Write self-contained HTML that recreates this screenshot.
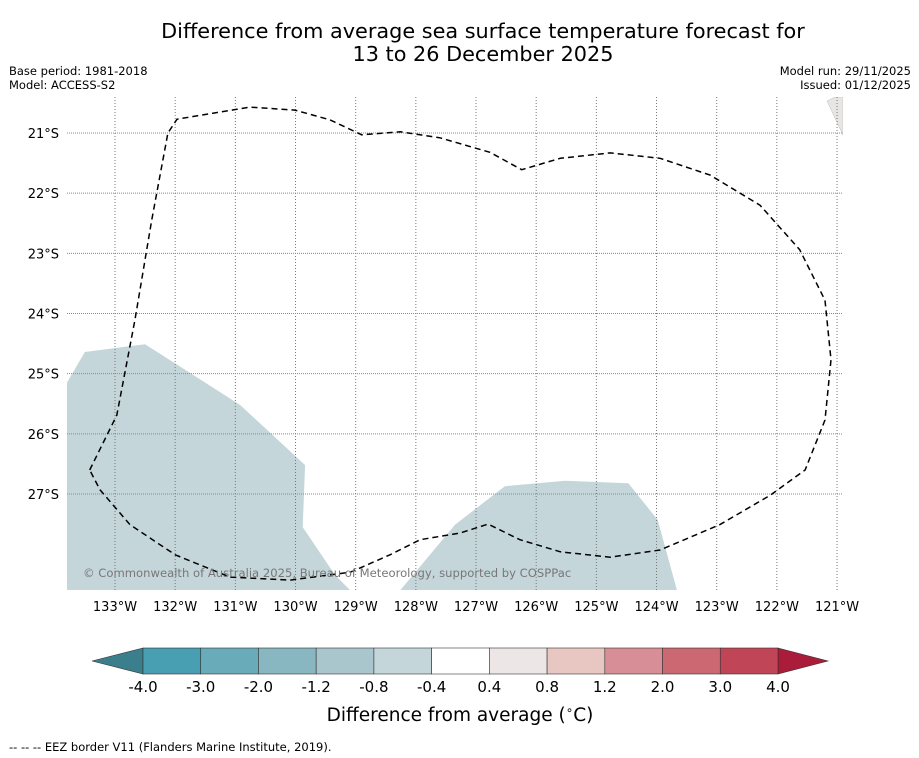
<!DOCTYPE html>
<html><head><meta charset="utf-8"><style>
body{margin:0;background:#fff;width:919px;height:758px;overflow:hidden;font-family:"DejaVu Sans","Liberation Sans",sans-serif}
svg{display:block}
</style></head><body>
<svg id="chart" width="919" height="758" viewBox="0 0 919 758" font-family="DejaVu Sans, Liberation Sans, sans-serif">
<text x="483" y="38" font-size="20.8" text-anchor="middle">Difference from average sea surface temperature forecast for</text>
<text x="483" y="61" font-size="20.8" text-anchor="middle">13 to 26 December 2025</text>
<text x="9" y="75" font-size="11.5">Base period: 1981-2018</text>
<text x="9" y="89" font-size="11.5">Model: ACCESS-S2</text>
<text x="911" y="75" font-size="11.5" text-anchor="end">Model run: 29/11/2025</text>
<text x="911" y="89" font-size="11.5" text-anchor="end">Issued: 01/12/2025</text>
<g id="map"></g>
<g id="cbar"></g>
<text x="460" y="721" font-size="18.5" text-anchor="middle">Difference from average (<tspan baseline-shift="super" font-size="12">∘</tspan>C)</text>
<text x="9" y="751" font-size="11.5">--  --  -- EEZ border V11 (Flanders Marine Institute, 2019).</text>
</svg>
<script>
const lonTicks=[-133,-132,-131,-130,-129,-128,-127,-126,-125,-124,-123,-122,-121];
const latTicks=[-21,-22,-23,-24,-25,-26,-27];
const eezLon=[-133.42,-132.97,-132.67,-132.39,-132.12,-131.97,-130.76,-130.01,-129.43,-128.90,-128.26,-127.60,-126.77,-126.24,-125.60,-124.77,-123.94,-123.11,-122.28,-121.62,-121.20,-121.10,-121.20,-121.53,-122.11,-122.95,-123.94,-124.77,-125.60,-126.27,-126.80,-127.27,-127.93,-128.43,-129.09,-130.09,-131.09,-132.00,-132.75,-133.25,-133.42];
const eezLat=[-26.60,-25.69,-24.11,-22.45,-21.00,-20.77,-20.57,-20.62,-20.78,-21.03,-20.98,-21.08,-21.32,-21.61,-21.42,-21.33,-21.42,-21.70,-22.20,-22.94,-23.78,-24.77,-25.77,-26.60,-27.02,-27.51,-27.93,-28.05,-27.96,-27.76,-27.50,-27.65,-27.76,-28.01,-28.30,-28.43,-28.38,-28.01,-27.51,-26.93,-26.60];
const patchWestLon=[-133.80,-133.50,-132.50,-130.92,-130.51,-129.84,-129.88,-129.34,-129.09,-133.80];
const patchWestLat=[-25.15,-24.64,-24.51,-25.52,-25.90,-26.52,-27.55,-28.35,-28.60,-28.60];
const patchEastLon=[-128.26,-127.35,-126.52,-125.52,-124.47,-123.98,-123.66];
const patchEastLat=[-28.60,-27.51,-26.87,-26.78,-26.82,-27.43,-28.60];
const cbarLabels=["-4.0","-3.0","-2.0","-1.2","-0.8","-0.4","0.4","0.8","1.2","2.0","3.0","4.0"];
const cbarColors=["#489fb1","#69abb9","#88b6c1","#a8c6cc","#c5d6db","#ffffff","#ede6e6","#e8c6c1","#d78e96","#cb6872","#c04556"];
const NS="http://www.w3.org/2000/svg";
const X0=67,X1=843,Y0=97,Y1=590,PX=60.17;
const xs=lon=>115+(lon+133)*PX;
const ys=lat=>133+(-21-lat)*PX;
function mk(tag,attrs,parent){const e=document.createElementNS(NS,tag);for(const k in attrs)e.setAttribute(k,attrs[k]);parent.appendChild(e);return e;}
const map=document.getElementById('map');
const clip=mk('clipPath',{id:'mc'},map);mk('rect',{x:X0,y:Y0,width:X1-X0,height:Y1-Y0},clip);
const g=mk('g',{'clip-path':'url(#mc)'},map);
function poly(lons,lats){return lons.map((l,i)=>xs(l).toFixed(1)+','+ys(lats[i]).toFixed(1)).join(' ');}
let p=mk('polygon',{points:poly(patchWestLon,patchWestLat),fill:'#c5d6db'},g);


p=mk('polygon',{points:poly(patchEastLon,patchEastLat),fill:'#c5d6db'},g);


p=mk('polygon',{points:'827,101 835,97 843,97 843,135',fill:'#e8e6e4',stroke:'#bbb','stroke-width':0.5},g);


lonTicks.forEach(l=>{const x=xs(l);
 const ln=mk('line',{x1:x,x2:x,y1:Y0,y2:Y1,stroke:'#777','stroke-width':1,'stroke-dasharray':'1,2'},g);
 
 
 const t=mk('text',{x:x,y:611,'font-size':13,'text-anchor':'middle'},map);t.textContent=Math.abs(l)+'°W';
 
 
});
latTicks.forEach(l=>{const y=ys(l);
 const ln=mk('line',{x1:X0,x2:X1,y1:y,y2:y,stroke:'#889','stroke-width':1,'stroke-dasharray':'1,1'},g);
 
 
 const t=mk('text',{x:59,y:y+5,'font-size':13,'text-anchor':'end'},map);t.textContent=Math.abs(l)+'°S';
 
 
});
p=mk('polyline',{points:poly(eezLon,eezLat),fill:'none',stroke:'#000','stroke-width':1.5,'stroke-dasharray':'6,4'},g);


let t=mk('text',{x:83,y:577,'font-size':11.6,fill:'#777'},map);t.textContent='© Commonwealth of Australia 2025, Bureau of Meteorology, supported by COSPPac';


const cb=document.getElementById('cbar');
const CX0=143,CX1=778,CY0=648,CY1=674,n=cbarColors.length,w=(CX1-CX0)/n;
p=mk('polygon',{points:`${CX0},${CY0} 92,661 ${CX0},${CY1}`,fill:'#3c7f8c',stroke:'#333','stroke-width':0.6},cb);


p=mk('polygon',{points:`${CX1},${CY0} 828,661 ${CX1},${CY1}`,fill:'#ab1b3a',stroke:'#333','stroke-width':0.6},cb);


cbarColors.forEach((c,i)=>{const r=mk('rect',{x:CX0+i*w,y:CY0,width:w,height:CY1-CY0,fill:c,stroke:'#333','stroke-width':0.6},cb);
 
 });
cbarLabels.forEach((s,i)=>{const tt=mk('text',{x:CX0+i*w,y:692,'font-size':15,'text-anchor':'middle'},cb);tt.textContent=s;
 
 });
</script>
</body></html>
